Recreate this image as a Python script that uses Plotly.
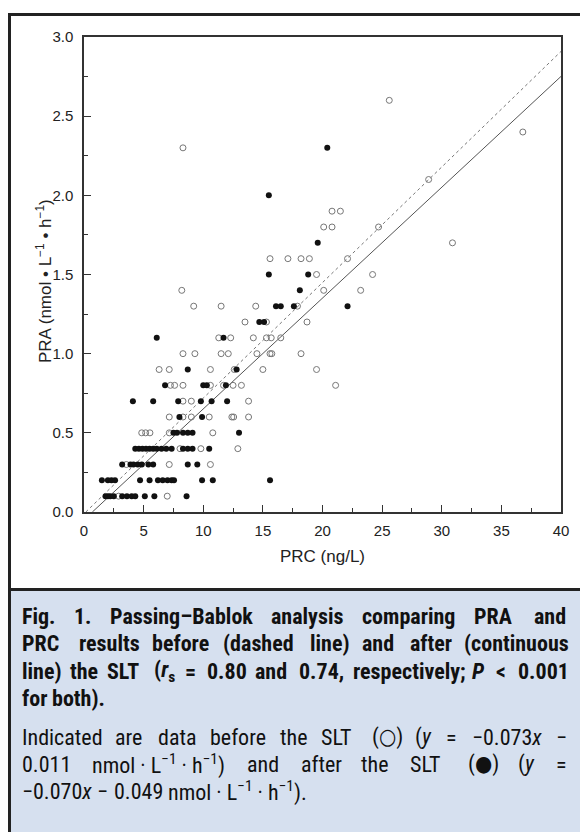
import re
import html
import numpy as np
import plotly.graph_objects as go

# ---- data: before SLT (open circles) ----
before_x = [2.9, 6.98,
            3.55, 7.15, 10.6,
            8.05, 9.8, 12.9,
            4.84, 5.17, 5.53, 7.15, 10.8,
            7.15, 8.3, 9.0, 10.5, 12.4, 12.55, 13.8,
            8.3, 9.0, 13.8,
            7.25, 7.6, 8.3, 10.6, 11.7, 12.5, 13.2, 21.1,
            6.3, 7.15, 10.6, 12.6, 15.0, 19.5,
            8.3, 9.3, 11.5, 12.1, 14.5, 15.6, 15.75, 18.2,
            11.3, 12.3, 14.2, 15.3, 15.7, 16.5,
            13.5, 15.3, 18.7,
            9.2, 11.5, 14.4, 17.9,
            8.2, 20.1, 23.2,
            19.5, 24.2,
            15.6, 17.1, 18.2, 18.9, 22.1,
            30.9,
            20.1, 20.8, 24.7,
            20.8, 21.5,
            28.9,
            8.3,
            36.8,
            25.6]
before_y = [0.1, 0.1,
            0.3, 0.3, 0.3,
            0.4, 0.4, 0.4,
            0.5, 0.5, 0.5, 0.5, 0.5,
            0.6, 0.6, 0.6, 0.6, 0.6, 0.6, 0.6,
            0.7, 0.7, 0.7,
            0.8, 0.8, 0.8, 0.8, 0.8, 0.8, 0.8, 0.8,
            0.9, 0.9, 0.9, 0.9, 0.9, 0.9,
            1.0, 1.0, 1.0, 1.0, 1.0, 1.0, 1.0, 1.0,
            1.1, 1.1, 1.1, 1.1, 1.1, 1.1,
            1.2, 1.2, 1.2,
            1.3, 1.3, 1.3, 1.3,
            1.4, 1.4, 1.4,
            1.5, 1.5,
            1.6, 1.6, 1.6, 1.6, 1.6,
            1.7,
            1.8, 1.8, 1.8,
            1.9, 1.9,
            2.1,
            2.3,
            2.4,
            2.6]

# ---- data: after SLT (filled circles) ----
after_x = [1.8, 2.0, 2.2, 2.5, 3.2, 3.6, 4.0, 4.3, 5.1, 5.9, 8.6,
           1.5, 2.0, 2.3, 2.6, 4.7, 5.5, 6.2, 6.6, 7.0, 7.35, 7.55, 9.9, 10.8, 15.6,
           3.2, 3.9, 4.15, 4.5, 4.85, 5.4, 5.8, 8.7, 9.5,
           4.3, 4.6, 4.9, 5.2, 5.5, 5.8, 6.1, 6.5, 6.9, 7.35, 8.3, 8.7, 9.1, 10.5,
           7.5, 7.8, 8.3, 8.7, 9.1, 13.0,
           8.0, 9.9,
           4.1, 5.8, 7.9, 9.8, 10.7, 12.0,
           6.8, 10.0, 10.3, 11.9,
           8.7, 12.8,
           6.1, 11.7,
           14.7, 15.1,
           16.1, 16.5, 17.6, 22.1,
           18.1,
           15.5, 18.8,
           19.6,
           15.5,
           20.4]
after_y = [0.1] * 11 + [0.2] * 14 + [0.3] * 9 + [0.4] * 14 + [0.5] * 6 + \
          [0.6] * 2 + [0.7] * 6 + [0.8] * 4 + [0.9] * 2 + [1.1] * 2 + \
          [1.2] * 2 + [1.3] * 4 + [1.4] * 1 + [1.5] * 2 + [1.7] * 1 + \
          [2.0] * 1 + [2.3] * 1

# Passing-Bablok regression lines (slope, intercept)
before_fit = (0.073, -0.011)
after_fit = (0.070, -0.049)

x_range = [0, 40]
y_range = [0, 3.0]
x_ticks = [0, 5, 10, 15, 20, 25, 30, 35, 40]
y_ticks = [0.0, 0.5, 1.0, 1.5, 2.0, 2.5, 3.0]

x_title = "PRC (ng/L)"
y_title = "PRA (nmol • L<sup>−1</sup> • h<sup>−1</sup>)"

# caption: (words, justified?, natural width measured at 21px, y pixel, bold)
caption = [
    (["Fig.", "1.", "Passing–Bablok", "analysis", "comparing", "PRA", "and"], True, 440, 616, True),
    (["PRC", "results", "before", "(dashed", "line)", "and", "after", "(continuous"], True, 460, 643, True),
    (["line)", "the", "SLT", "(<i>r</i><sub>s</sub>", "=", "0.80", "and", "0.74,", "respectively;",
      "<i>P</i>", "&lt;", "0.001"], True, 466, 671, True),
    (["for", "both)."], False, 80, 698, True),
    (["Indicated", "are", "data", "before", "the", "SLT", "(○)", "(<i>y</i>", "=",
      "−0.073<i>x</i>", "−"], True, 430, 737, False),
    (["0.011", "nmol · L<sup>−1</sup> · h<sup>−1</sup>)", "and", "after", "the", "SLT", "(●)",
      "(<i>y</i>", "="], True, 394, 764, False),
    (["−0.070<i>x</i>", "−", "0.049", "nmol · L<sup>−1</sup> · h<sup>−1</sup>)."], False, 272, 791, False),
]

# ---- layout geometry (pixels) ----
W, H = 580, 832
L, R, T, B = 84, 561, 37, 512
PW, PH = R - L, B - T


def px(xp):
    return (xp - L) / PW


def py(yp):
    return (B - yp) / PH


# approximate relative glyph widths (Arial-like, per 1000 em)
CW = {' ': 278, '(': 333, ')': 333, '.': 278, ',': 278, ';': 278, '–': 556, '−': 584,
      '=': 584, '<': 584, '·': 278, '○': 800, '●': 800, '/': 278}
for ch in '0123456789':
    CW[ch] = 556
CW.update({c: 556 for c in 'abdeghnopqu'})
CW.update({'c': 500, 'f': 278, 'i': 222, 'j': 222, 'k': 500, 'l': 222, 'm': 833, 'r': 333,
            's': 500, 't': 278, 'v': 500, 'w': 722, 'x': 500, 'y': 500, 'z': 500})
CW.update({'A': 667, 'B': 667, 'C': 722, 'F': 611, 'I': 278, 'L': 556, 'P': 667, 'R': 722,
           'S': 667, 'T': 611})


def est_width(word):
    total, scale = 0.0, 1.0
    for tok in re.split(r'(<[^>]+>)', word):
        if tok.startswith('<'):
            if tok in ('<sup>', '<sub>'):
                scale = 0.7
            elif tok in ('</sup>', '</sub>'):
                scale = 1.0
            continue
        for ch in html.unescape(tok):
            total += CW.get(ch, 556) * scale
    return total


fig = go.Figure()

for (m, c), dashed, col in [(before_fit, True, "#777777"), (after_fit, False, "#555555")]:
    xs = np.array([-c / m, x_range[1]])
    fig.add_trace(go.Scatter(x=xs, y=m * xs + c, mode="lines",
                             line=dict(color=col, width=1, dash="3px,3px" if dashed else "solid"),
                             hoverinfo="skip", showlegend=False))

fig.add_trace(go.Scatter(x=before_x, y=before_y, mode="markers", name="before SLT",
                         marker=dict(symbol="circle-open", size=6, color="#777777",
                                     line=dict(width=1, color="#777777")),
                         showlegend=False))
fig.add_trace(go.Scatter(x=after_x, y=after_y, mode="markers", name="after SLT",
                         marker=dict(symbol="circle", size=6, color="#111111"),
                         showlegend=False))

axis_common = dict(showgrid=False, zeroline=False, showline=True, linecolor="#333333",
                   linewidth=1.5, mirror=True, ticks="inside", tickcolor="#333333",
                   ticklen=7, tickwidth=1.2,
                   tickfont=dict(family="Liberation Sans, Arial, sans-serif", size=15, color="#222222"))

fig.update_xaxes(range=x_range, tickvals=x_ticks, ticklabelstandoff=4,
                 minor=dict(dtick=2.5, tick0=0, ticks="inside", ticklen=4, tickcolor="#333333"),
                 **axis_common)
fig.update_yaxes(range=y_range, tickvals=y_ticks, tickformat=".1f", ticklabelstandoff=6,
                 minor=dict(dtick=0.25, tick0=0, ticks="inside", ticklen=4, tickcolor="#333333"),
                 **axis_common)

shapes = [
    dict(type="rect", xref="paper", yref="paper", x0=px(10), x1=px(590), y0=py(590), y1=py(845),
         fillcolor="#d6e0ef", line=dict(width=0), layer="below"),
    dict(type="line", xref="paper", yref="paper", x0=px(8), x1=px(590), y0=py(14.5), y1=py(14.5),
         line=dict(color="#222222", width=3)),
    dict(type="line", xref="paper", yref="paper", x0=px(8), x1=px(590), y0=py(589.5), y1=py(589.5),
         line=dict(color="#222222", width=3)),
    dict(type="line", xref="paper", yref="paper", x0=px(9.5), x1=px(9.5), y0=py(13), y1=py(845),
         line=dict(color="#222222", width=3)),
]

title_font = dict(family="Liberation Sans, Arial, sans-serif", size=17, color="#222222")
annotations = [
    dict(text=x_title, x=px(322.5), y=py(556), xref="paper", yref="paper",
         showarrow=False, xanchor="center", yanchor="middle", font=title_font),
    dict(text=y_title, x=px(44), y=py(281),
         xref="paper", yref="paper", showarrow=False, textangle=-90,
         xanchor="center", yanchor="middle", font=title_font),
]

CAP_SIZE = 22
CAP_LEFT, CAP_RIGHT = 20, 565
cap_family = "Liberation Sans Narrow, Roboto Condensed, DejaVu Sans Condensed, Roboto, sans-serif"
for words, justify, natural21, yy, bold in caption:
    natural = natural21 * CAP_SIZE / 21.0
    ew = [est_width(w) for w in words]
    est_total = sum(ew) + CW[' '] * (len(words) - 1)
    k = natural / est_total
    widths = [k * w for w in ew]
    if justify and len(words) > 1:
        gap = (CAP_RIGHT - CAP_LEFT - sum(widths)) / (len(words) - 1)
    else:
        gap = k * CW[' ']
    xpos = CAP_LEFT
    color = "#111111"
    for w, wd in zip(words, widths):
        t = "<b>" + w + "</b>" if bold else w
        annotations.append(dict(text=t, x=px(xpos), y=py(yy), xref="paper", yref="paper",
                                showarrow=False, xanchor="left", yanchor="middle",
                                font=dict(family=cap_family, size=CAP_SIZE, color=color)))
        xpos += wd + gap

fig.update_layout(width=W, height=H, margin=dict(l=L, r=W - R, t=T, b=H - B),
                  paper_bgcolor="white", plot_bgcolor="white",
                  shapes=shapes, annotations=annotations, showlegend=False)

fig.write_html("out.html", config={"displayModeBar": False},
               post_script="document.body.style.margin='0';")
